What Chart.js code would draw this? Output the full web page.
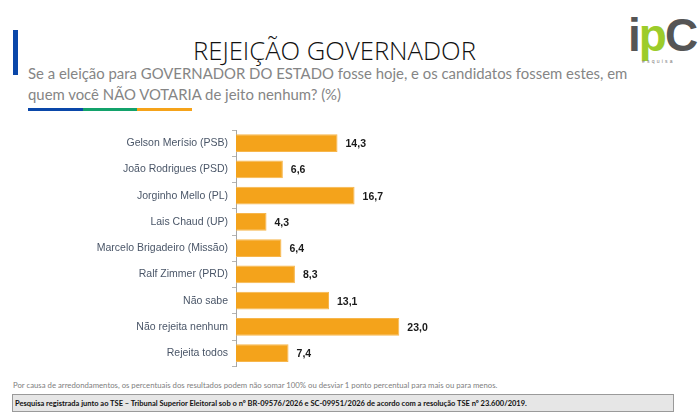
<!DOCTYPE html>
<html lang="pt-BR">
<head>
<meta charset="utf-8">
<title>Rejeição Governador</title>
<script src="https://cdn.jsdelivr.net/npm/chart.js@4.4.1/dist/chart.umd.min.js"></script>
<style>
  html, body { margin: 0; padding: 0; background: #fff; }
  body { width: 700px; height: 418px; position: relative; overflow: hidden; font-family: "Liberation Sans", Arial, sans-serif; }
  .abs { position: absolute; white-space: nowrap; }
  #barra { left: 13px; top: 30px; width: 5px; height: 45px; background: #0a47a9; }
  #titulo { left: 193px; top: 34px; font-family: "Open Sans", sans-serif; font-weight: 300; color: #111; line-height: 1; }
  .sub { left: 28px; font-family: "Lato", "Open Sans", sans-serif; color: #858585; line-height: 1; }
  .risco { top: 108px; height: 3px; }
  #logo { left: 628px; top: 12px; width: 64px; height: 56px; }
  #logo .letras { position: absolute; left: 0; top: 0; font-family: "Liberation Sans", Arial, sans-serif; font-weight: bold; font-size: 46px; line-height: 46px; letter-spacing: -2px; }
  #logo .pesq { position: absolute; left: 14px; top: 46px; font-size: 5px; letter-spacing: 2.2px; color: #777; }
  #rodape { left: 13px; font-family: "Lato", sans-serif; font-size: 8px; color: #808080; line-height: 1; }
  #caixa { left: 12px; top: 394px; width: 662px; height: 18px; background: #e6e6e6; border: 1px solid #9a9a9a; box-sizing: border-box; }
  #registro { left: 15px; font-family: "Lato", sans-serif; font-weight: bold; font-size: 8px; color: #111; line-height: 1; }
  #grafico { position: absolute; left: 0; top: 125px; width: 520px; height: 250px; }
</style>
</head>
<body>
<div id="barra" class="abs"></div>
<div id="titulo" class="abs">REJEIÇÃO GOVERNADOR</div>
<div id="sub1" class="abs sub">Se a eleição para GOVERNADOR DO ESTADO fosse hoje, e os candidatos fossem estes, em</div>
<div id="sub2" class="abs sub">quem você NÃO VOTARIA de jeito nenhum? (%)</div>
<div class="abs risco" style="left:28px;width:55px;background:#0a47a9"></div>
<div class="abs risco" style="left:83px;width:54px;background:#13a26b"></div>
<div class="abs risco" style="left:137px;width:55px;background:#f5a31a"></div>
<div id="logo" class="abs">
  <div class="letras"><span style="color:#555">i</span><span style="color:#9ccc2a">p</span><span style="color:#555">C</span></div>
  <div class="pesq">esquisa</div>
</div>
<div id="grafico"><canvas id="chart"></canvas></div>
<div id="rodape" class="abs">Por causa de arredondamentos, os percentuais dos resultados podem não somar 100% ou desviar 1 ponto percentual para mais ou para menos.</div>
<div id="caixa" class="abs"></div>
<div id="registro" class="abs">Pesquisa registrada junto ao TSE – Tribunal Superior Eleitoral sob o nº BR-09576/2026 e SC-09951/2026 de acordo com a resolução TSE nº 23.600/2019.</div>

<script>
// === Dados ===
const categorias = [
  "Gelson Merísio (PSB)",
  "João Rodrigues (PSD)",
  "Jorginho Mello (PL)",
  "Lais Chaud (UP)",
  "Marcelo Brigadeiro (Missão)",
  "Ralf Zimmer (PRD)",
  "Não sabe",
  "Não rejeita nenhum",
  "Rejeita todos"
];
const rejeicao = [14.3, 6.6, 16.7, 4.3, 6.4, 8.3, 13.1, 23.0, 7.4];

// === Ajuste do texto à largura e à linha de base da imagem ===
function ajustar(id, largura, tamanho) {
  const el = document.getElementById(id);
  el.style.fontSize = tamanho + "px";
  const w = el.getBoundingClientRect().width;
  const novo = tamanho * largura / w;
  el.style.fontSize = novo + "px";
  return novo;
}
function base(id, y) {
  const el = document.getElementById(id);
  const m = document.createElement("span");
  m.style.cssText = "display:inline-block;width:0;height:0;vertical-align:baseline";
  el.appendChild(m);
  const off = m.getBoundingClientRect().top - el.getBoundingClientRect().top;
  el.removeChild(m);
  el.style.top = (y - off) + "px";
}
ajustar("titulo", 283, 26);
const tamSub = ajustar("sub1", 600, 16);
document.getElementById("sub2").style.fontSize = tamSub + "px";
ajustar("rodape", 485, 8);
ajustar("registro", 512, 8);
base("titulo", 60);
base("sub1", 79);
base("sub2", 100);
base("rodape", 388);
base("registro", 406);

// === Rótulos de valor no fim das barras ===
const rotulosValor = {
  id: "rotulosValor",
  afterDatasetsDraw(chart) {
    const ctx = chart.ctx;
    const meta = chart.getDatasetMeta(0);
    ctx.save();
    ctx.font = "bold 10.5px 'Liberation Sans', Arial, sans-serif";
    ctx.fillStyle = "#1a1a1a";
    ctx.textAlign = "left";
    ctx.textBaseline = "middle";
    meta.data.forEach((bar, i) => {
      const txt = rejeicao[i].toFixed(1).replace(".", ",");
      ctx.fillText(txt, bar.x + 8, bar.y + 1);
    });
    ctx.restore();
  }
};

new Chart(document.getElementById("chart"), {
  type: "bar",
  data: {
    labels: categorias,
    datasets: [{
      data: rejeicao,
      backgroundColor: "#f4a31b",
      borderColor: "#f7b64c",
      borderWidth: 1,
      barPercentage: 0.67,
      categoryPercentage: 1
    }]
  },
  options: {
    indexAxis: "y",
    responsive: true,
    maintainAspectRatio: false,
    animation: false,
    layout: { padding: { top: 5, bottom: 8.75, left: 0, right: 0 } },
    plugins: {
      legend: { display: false },
      tooltip: { enabled: false },
      title: { display: false }
    },
    scales: {
      x: {
        display: false,
        min: 0,
        max: 40
      },
      y: {
        afterFit(scale) {
          scale.width = 236;
          scale.paddingTop = 0;
          scale.paddingBottom = 0;
        },
        grid: {
          display: true,
          drawOnChartArea: false,
          drawTicks: true,
          tickLength: 4,
          color: "#b5b5b5",
          offset: true
        },
        border: { display: true, color: "#a6a6a6", width: 1 },
        ticks: {
          color: "#4a5668",
          padding: 4,
          font: { family: "'Liberation Sans', Arial, sans-serif", size: 10.5 }
        }
      }
    }
  },
  plugins: [rotulosValor]
});
</script>
</body>
</html>
